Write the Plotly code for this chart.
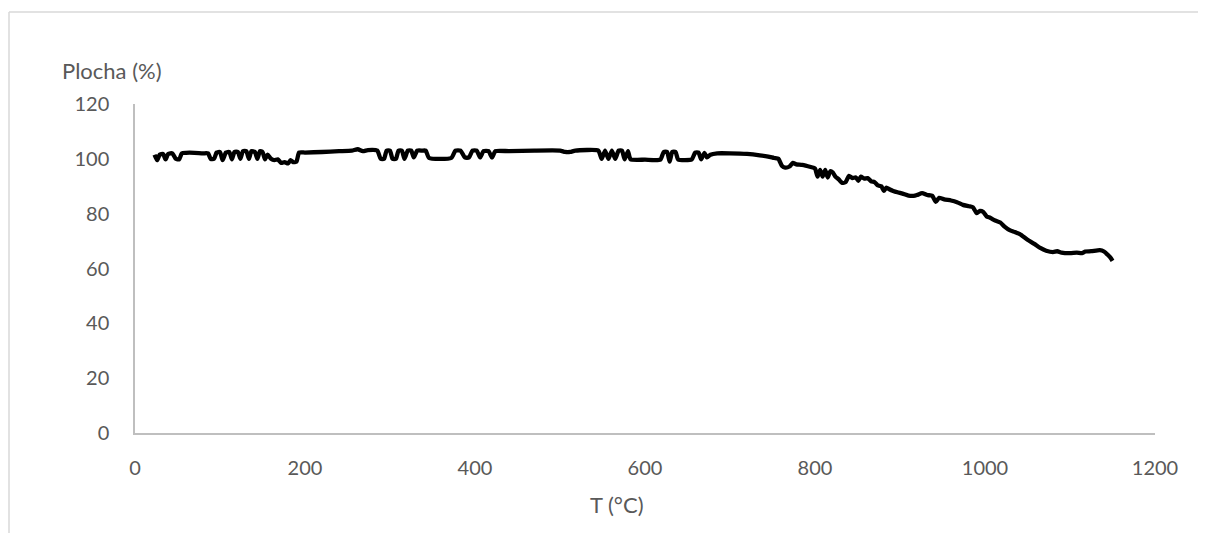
import plotly.graph_objects as go

# Temperature (°C) and weight-loss ("Plocha", %)
T = [23, 26, 29, 33, 36, 39, 44, 48, 52, 55, 60, 70, 80, 86,
     89, 93, 96, 100, 103, 107, 111, 114, 117, 121, 124, 127, 131, 134, 137, 141, 144, 147, 150, 153, 156,
     160, 164, 168, 172, 176, 180, 183, 186, 190, 193, 200,
     220, 240, 255, 262, 268, 274, 285,
     289, 293, 296, 300, 303, 307, 310, 314, 317, 321, 325, 328, 332, 338, 342, 346,
     372, 377, 383, 388, 393, 397, 402, 406, 410, 416, 420, 424,
     440, 470, 500, 506, 512, 518, 545,
     549, 553, 557, 561, 565, 569, 573, 576, 580, 583,
     600, 618,
     622, 626, 629, 632, 636, 639, 655, 659, 663, 666, 670, 673, 677, 685,
     700, 720, 735, 745, 752, 757, 761, 765, 770, 774, 778, 785, 795, 800,
     803, 806, 809, 812, 815, 818, 821, 824, 828, 832, 836, 840, 844, 848, 851, 854, 858, 862, 866, 870,
     874, 878, 881, 884, 888, 892, 897, 903, 910, 916, 920, 926, 932, 938, 942, 946, 952, 960, 967, 974,
     981, 986, 990, 994, 998, 1002, 1006, 1012, 1018, 1023, 1029, 1035, 1041, 1050, 1058, 1065, 1072,
     1080, 1085, 1090, 1100, 1108, 1114, 1118, 1125, 1135, 1140, 1145, 1148, 1150]
P = [101.5, 99.5, 101.5, 101.8, 99.8, 101.8, 102, 100, 99.8, 102, 102.2, 102.2, 102, 102,
     100, 100, 102.3, 102.5, 99.5, 102.3, 102.5, 99.8, 102.5, 102.5, 100, 102.8, 102.8, 100, 102.8, 102.5, 100, 102.8, 102.5, 99.8, 101.5,
     100, 99.5, 99.8, 98.5, 98.8, 98.3, 99.5, 98.8, 99, 102.3, 102.3,
     102.5, 102.8, 103, 103.5, 102.8, 103.2, 103,
     100, 100, 103, 103, 100, 100, 103, 103, 100, 103, 103, 100.5, 103, 103, 103, 100.3,
     100.3, 103, 103, 100.5, 100.5, 103, 103, 100.5, 102.8, 102.8, 100.5, 102.8,
     102.8, 103, 103, 102.5, 102.5, 103, 103,
     100, 103, 100, 103, 100, 103, 103, 99.8, 102.8, 99.8,
     99.7, 99.7,
     102.5, 102.5, 99, 102.5, 102.5, 99.8, 99.8, 102.3, 102.3, 99.8, 102.2, 100.5, 101.5, 102,
     102, 101.8, 101.3, 100.8, 100.3, 100, 97.5, 96.8, 97.2, 98.5, 98, 97.8, 97, 96.5,
     93.5, 96, 93.5, 96, 93.2, 95.5, 95, 93.5, 92.5, 91.2, 91.5, 93.8, 93, 93.2, 92, 93.5, 92.8, 93, 91.8, 91.5,
     90.3, 90, 88.3, 89.5, 88.8, 88.3, 87.8, 87.3, 86.6, 86.5, 86.8, 87.5, 86.8, 86.5, 84.3, 85.8, 85.2, 84.8, 84.2, 83.2,
     82.7, 82.3, 80.2, 81, 80.6, 79, 78.5, 77.5, 76.8, 75.3, 74, 73.3, 72.5, 70.5, 69, 67.5, 66.5,
     66, 66.3, 65.8, 65.6, 65.8, 65.6, 66.2, 66.3, 66.7, 66.2, 64.8, 63.8, 62.8]

x_ticks = [0, 200, 400, 600, 800, 1000, 1200]
y_ticks = [0, 20, 40, 60, 80, 100, 120]

FONT = "Lato"
GRAY = "#595959"
AXIS = "#BFBFBF"

# page body has an 8px margin -> shift plot area up/left by 8px
OFF = 8
L, T_M, PW, PH = 135 - OFF, 104 - OFF, 1020, 329

fig = go.Figure()
fig.add_trace(go.Scatter(x=T, y=P, mode="lines",
                         line=dict(color="black", width=4.3, shape="spline", smoothing=0.5),
                         showlegend=False))

BX = (9 - 135) / PW  # left chart border (as close to the page edge as possible)

fig.update_layout(
    width=1206, height=533,
    margin=dict(l=L, r=1206 - L - PW, t=T_M, b=533 - T_M - PH),
    paper_bgcolor="white", plot_bgcolor="white",
    font=dict(family=FONT, size=20, color=GRAY),
    xaxis=dict(range=[0, 1200], tickvals=x_ticks, showgrid=False, zeroline=False,
               showline=True, linecolor=AXIS, linewidth=1.5, ticks="",
               ticklabelstandoff=16, tickfont=dict(size=20, color=GRAY)),
    yaxis=dict(range=[0, 120], tickvals=y_ticks, showgrid=False, zeroline=False,
               showline=True, linecolor=AXIS, linewidth=1.5, ticks="",
               ticklabelstandoff=20, tickfont=dict(size=20, color=GRAY)),
    annotations=[
        dict(text="Plocha (%)", xref="paper", yref="paper",
             x=(112 - 135) / PW, y=(433 - 71) / PH, showarrow=False,
             xanchor="center", yanchor="middle", font=dict(size=22, color=GRAY)),
        dict(text="T (°C)", xref="paper", yref="paper",
             x=(617 - 135) / PW, y=(433 - 504) / PH, showarrow=False,
             xanchor="center", yanchor="middle", font=dict(size=22, color=GRAY)),
    ],
    shapes=[
        dict(type="line", xref="paper", yref="paper",
             x0=BX, x1=(1230 - 135) / PW,
             y0=(433 - 12) / PH, y1=(433 - 12) / PH,
             line=dict(color="#D9D9D9", width=1.5)),
        dict(type="line", xref="paper", yref="paper",
             x0=BX, x1=BX,
             y0=(433 - 12) / PH, y1=(433 - 560) / PH,
             line=dict(color="#D9D9D9", width=1.5)),
    ],
)

fig.write_html("out.html")
